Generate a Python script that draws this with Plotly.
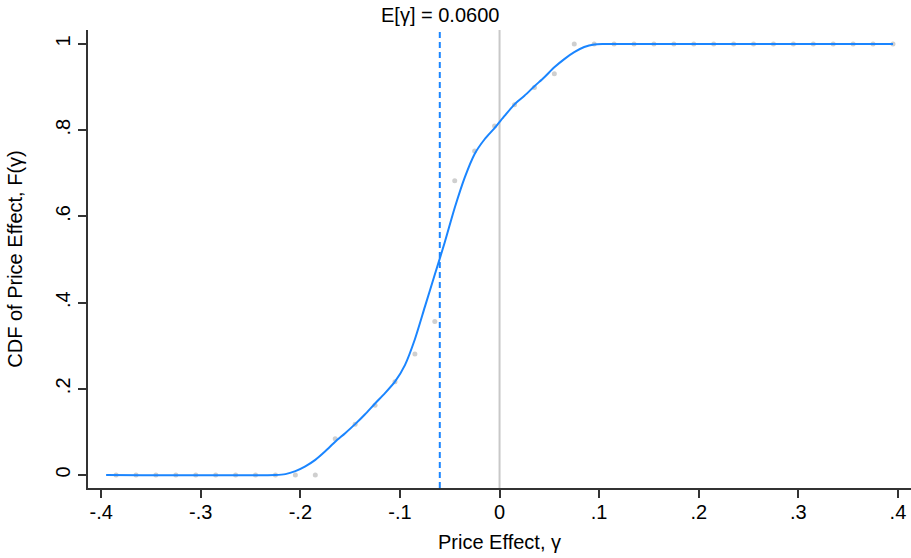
import plotly.graph_objects as go

# Empirical CDF of the estimated price effects (binned, grey dots)
bin_x = [-0.385, -0.365, -0.345, -0.325, -0.305, -0.285, -0.265, -0.245, -0.225,
         -0.205, -0.185, -0.165, -0.145, -0.125, -0.105, -0.085, -0.065, -0.045,
         -0.025, -0.005, 0.015, 0.035, 0.055, 0.075, 0.095, 0.115, 0.135, 0.155,
         0.175, 0.195, 0.215, 0.235, 0.255, 0.275, 0.295, 0.315, 0.335, 0.355,
         0.375, 0.395]
bin_cdf = [0, 0, 0, 0, 0, 0, 0, 0, 0,
           0, 0, 0.084, 0.118, 0.162, 0.2165, 0.281, 0.356, 0.683,
           0.752, 0.810, 0.859, 0.899, 0.931, 1, 1, 1, 1, 1,
           1, 1, 1, 1, 1, 1, 1, 1, 1, 1,
           1, 1]

# Smoothed CDF F(gamma)
fit_x = [-0.395, -0.225, -0.215, -0.205, -0.195, -0.185, -0.175, -0.165, -0.155,
         -0.145, -0.135, -0.125, -0.115, -0.105, -0.095, -0.085, -0.075, -0.065,
         -0.055, -0.045, -0.035, -0.025, -0.015, -0.005, 0.005, 0.015, 0.025,
         0.035, 0.045, 0.055, 0.065, 0.075, 0.085, 0.095, 0.105, 0.395]
fit_cdf = [0, 0, 0.002, 0.009, 0.02, 0.035, 0.055, 0.077, 0.097,
           0.118, 0.141, 0.166, 0.19, 0.2165, 0.255, 0.315, 0.39, 0.465,
           0.54, 0.62, 0.69, 0.745, 0.779, 0.805, 0.833, 0.86, 0.88,
           0.902, 0.923, 0.946, 0.965, 0.981, 0.993, 0.999, 1.0, 1.0]

mean_gamma = -0.0600

x_ticks = [-0.4, -0.3, -0.2, -0.1, 0, 0.1, 0.2, 0.3, 0.4]
x_labels = ["-.4", "-.3", "-.2", "-.1", "0", ".1", ".2", ".3", ".4"]
y_ticks = [0, 0.2, 0.4, 0.6, 0.8, 1]
y_labels = ["0", ".2", ".4", ".6", ".8", "1"]

BLUE = "#1a85ff"
GREY = "#cfcfcf"
FONT = "Liberation Sans, Arial, Helvetica, sans-serif"
FS = 20

fig = go.Figure()

fig.add_trace(go.Scatter(
    x=bin_x, y=bin_cdf, mode="markers",
    marker=dict(color=GREY, size=5),
    hoverinfo="skip", showlegend=False,
))
fig.add_trace(go.Scatter(
    x=fit_x, y=fit_cdf, mode="lines",
    line=dict(color=BLUE, width=2, shape="spline", smoothing=0.7),
    showlegend=False,
))

# Reference lines: zero effect and the mean effect
fig.add_shape(type="line", xref="x", yref="paper", x0=0, x1=0, y0=0, y1=1,
              line=dict(color="#c8c8c8", width=2), layer="below")
fig.add_shape(type="line", xref="x", yref="paper", x0=mean_gamma, x1=mean_gamma,
              y0=0, y1=1, line=dict(color=BLUE, width=2, dash="6px,4px"))
fig.add_annotation(x=mean_gamma, xref="x", y=1, yref="paper", yanchor="bottom",
                   text=f"E[γ] = {abs(mean_gamma):.4f}", showarrow=False,
                   font=dict(size=FS, color="#000000", family=FONT), yshift=2)

fig.update_layout(
    width=911, height=558,
    margin=dict(l=88, r=0, t=30, b=70),
    paper_bgcolor="white", plot_bgcolor="white",
    font=dict(family=FONT, size=FS, color="#000000"),
    xaxis=dict(
        range=[-0.4132, 0.4131], tickvals=x_ticks, ticktext=x_labels,
        ticks="outside", ticklen=8, tickwidth=1.5, tickcolor="#333333",
        showline=True, linecolor="#333333", linewidth=1.5,
        showgrid=False, zeroline=False, ticklabelstandoff=-3,
        title=dict(text="Price Effect, γ", standoff=13, font=dict(size=FS)),
        tickfont=dict(size=FS),
    ),
    yaxis=dict(
        range=[-0.0302, 1.0325], tickvals=y_ticks, ticktext=y_labels,
        ticks="outside", ticklen=8, tickwidth=1.5, tickcolor="#333333",
        showline=True, linecolor="#333333", linewidth=1.5,
        showgrid=False, zeroline=False, tickangle=-90,
        title=dict(text="CDF of Price Effect, F(γ)", standoff=24,
                   font=dict(size=FS)),
        tickfont=dict(size=FS),
    ),
)

fig.write_html("out.html")
